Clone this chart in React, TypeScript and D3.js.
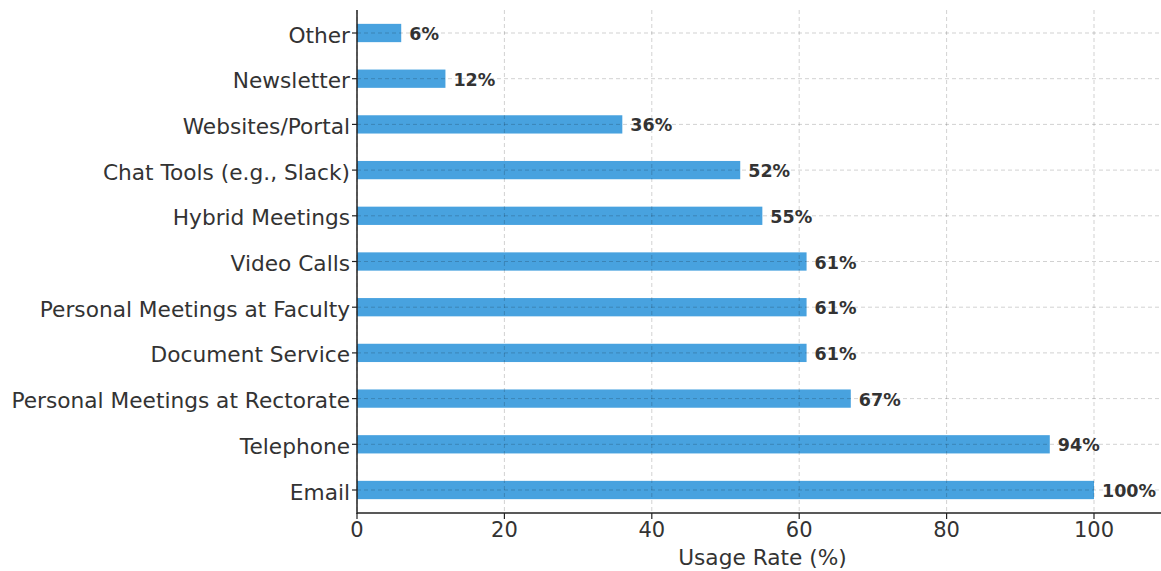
import React from "react";
import * as d3 from "d3";

const categories = [
  "Email",
  "Telephone",
  "Personal Meetings at Rectorate",
  "Document Service",
  "Personal Meetings at Faculty",
  "Video Calls",
  "Hybrid Meetings",
  "Chat Tools (e.g., Slack)",
  "Websites/Portal",
  "Newsletter",
  "Other",
];
const values = [100, 94, 67, 61, 61, 61, 55, 52, 36, 12, 6];
const xTicks = [0, 20, 40, 60, 80, 100];
const xLabel = "Usage Rate (%)";

const W = 1161;
const H = 571;
const font = "'DejaVu Sans', sans-serif";

export default function App() {
  const left = 357;
  const bottom = 513;
  const top = 10;
  const right = 1160;
  const x = d3.scaleLinear().domain([0, 100]).range([left, 1094]);
  const y = d3
    .scalePoint<string>()
    .domain(categories)
    .range([490, 33])
    .padding(0);
  const step = y.step();
  const barH = step * 0.4;
  const gridColor = "rgba(0,0,0,0.18)";

  return (
    <svg
      width={W}
      height={H}
      style={{ position: "absolute", left: 0, top: 0, background: "#fff" }}
      fontFamily={font}
    >
      <rect x={0} y={0} width={W} height={H} fill="#fff" />
      {categories.map((c, i) => (
        <rect
          key={c}
          x={x(0)}
          y={(y(c) as number) - barH / 2}
          width={x(values[i]) - x(0)}
          height={barH}
          fill="#3498db"
          fillOpacity={0.9}
        />
      ))}
      {/* grid */}
      {categories.map((c) => (
        <line
          key={"hg" + c}
          x1={left}
          x2={right}
          y1={y(c)}
          y2={y(c)}
          stroke={gridColor}
          strokeWidth={1}
          strokeDasharray="4,3"
        />
      ))}
      {xTicks.map((t) => (
        <line
          key={"vg" + t}
          x1={x(t)}
          x2={x(t)}
          y1={top}
          y2={bottom}
          stroke={gridColor}
          strokeWidth={1}
          strokeDasharray="4,3"
        />
      ))}
      {/* spines */}
      <line x1={left} x2={left} y1={top} y2={bottom + 1} stroke="#222" strokeWidth={1.5} />
      <line x1={left} x2={right + 1} y1={bottom} y2={bottom} stroke="#222" strokeWidth={1.5} />
      {/* y ticks & labels */}
      {categories.map((c) => (
        <g key={"yt" + c}>
          <line x1={left - 5} x2={left} y1={y(c)} y2={y(c)} stroke="#222" strokeWidth={1.2} />
          <text
            x={left - 7}
            y={(y(c) as number) + 2}
            textAnchor="end"
            dominantBaseline="central"
            fontSize={21.7}
            fill="#333"
          >
            {c}
          </text>
        </g>
      ))}
      {/* x ticks */}
      {xTicks.map((t) => (
        <g key={"xt" + t}>
          <line x1={x(t)} x2={x(t)} y1={bottom} y2={bottom + 6} stroke="#222" strokeWidth={1.2} />
          <text x={x(t)} y={537} textAnchor="middle" fontSize={21} fill="#333">
            {t}
          </text>
        </g>
      ))}
      <text x={(left + right) / 2 + 4} y={565} textAnchor="middle" fontSize={21.7} fill="#333">
        {xLabel}
      </text>
      {/* value labels */}
      {categories.map((c, i) => (
        <text
          key={"vl" + c}
          x={x(values[i]) + 8}
          y={(y(c) as number) + 1}
          dominantBaseline="central"
          fontSize={17.5}
          fontWeight="bold"
          fill="#333"
        >
          {values[i]}%
        </text>
      ))}
    </svg>
  );
}
